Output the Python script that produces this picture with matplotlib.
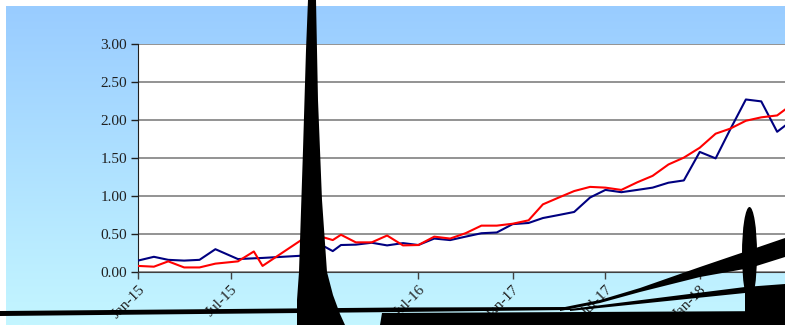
import datetime as dt

import numpy as np
import matplotlib
matplotlib.use("Agg")
import matplotlib.pyplot as plt
import matplotlib.dates as mdates
from matplotlib.patches import Polygon, Ellipse


# ------------------------------------------------------------
# Data
# ------------------------------------------------------------

dates = [
    "2015-01-01", "2015-02-01", "2015-03-01", "2015-04-01", "2015-05-01",
    "2015-06-01", "2015-07-15", "2015-08-15", "2015-09-01", "2015-12-01",
    "2016-01-01", "2016-01-16", "2016-02-01", "2016-03-01", "2016-04-01",
    "2016-05-01", "2016-06-01", "2016-07-01", "2016-08-01", "2016-09-01",
    "2016-10-01", "2016-11-01", "2016-12-01", "2017-01-01", "2017-02-01",
    "2017-03-01", "2017-04-01", "2017-05-01", "2017-06-01", "2017-07-01",
    "2017-08-01", "2017-09-01", "2017-10-01", "2017-11-01", "2017-12-01",
    "2018-01-01", "2018-02-01", "2018-03-01", "2018-04-01", "2018-05-01",
    "2018-06-01", "2018-07-01",
]

blue_values = [
    0.15, 0.20, 0.16, 0.15, 0.16, 0.30, 0.17, 0.18, 0.185, 0.22,
    0.33, 0.275, 0.355, 0.36, 0.385, 0.35, 0.38, 0.355, 0.44, 0.42,
    0.465, 0.51, 0.52, 0.63, 0.645, 0.71, 0.75, 0.79, 0.98, 1.08,
    1.05, 1.08, 1.11, 1.175, 1.205, 1.58, 1.495, 1.87, 2.27, 2.245,
    1.845, 2.00,
]

red_values = [
    0.08, 0.07, 0.14, 0.06, 0.06, 0.11, 0.14, 0.27, 0.08, 0.49,
    0.45, 0.42, 0.49, 0.39, 0.39, 0.48, 0.35, 0.355, 0.465, 0.44,
    0.51, 0.61, 0.61, 0.635, 0.68, 0.89, 0.98, 1.065, 1.12, 1.11,
    1.08, 1.18, 1.265, 1.415, 1.505, 1.635, 1.82, 1.885, 1.99, 2.035,
    2.06, 2.21,
]

y_ticks = [0.0, 0.5, 1.0, 1.5, 2.0, 2.5, 3.0]


def main():
    plt.rcParams["font.family"] = ["Liberation Serif", "DejaVu Serif"]

    W, H = 785, 325
    fig = plt.figure(figsize=(W / 100, H / 100), dpi=100)
    fig.patch.set_facecolor("white")

    # background gradient (white strip on top and left edge)
    bg = fig.add_axes([6 / W, 0, 1, (H - 6) / H])
    top = np.array([153, 204, 255]) / 255
    bottom = np.array([196, 246, 255]) / 255
    t = np.linspace(0, 1, 256)[:, None]
    grad = top * (1 - t) + bottom * t
    bg.imshow(grad[:, None, :], aspect="auto", extent=[0, 1, 0, 1])
    bg.set_axis_off()

    # plot area: left at 138px, runs past the right edge of the image
    x_dates = [dt.datetime.strptime(d, "%Y-%m-%d") for d in dates]
    ax = fig.add_axes([138 / W, (H - 272) / H, (792 - 138) / W, 228 / H])
    ax.set_facecolor("white")

    ax.plot(x_dates, blue_values, color="#000080", lw=1.5, zorder=3)
    ax.plot(x_dates, red_values, color="#ff0000", lw=1.5, zorder=3)

    ax.set_xlim(dt.datetime(2015, 1, 1), dt.datetime(2018, 6, 30))
    ax.set_ylim(0, 3)
    ax.set_yticks(y_ticks)
    ax.yaxis.set_major_formatter(plt.FormatStrFormatter("%.2f"))
    ax.grid(axis="y", color="#808080", lw=1.2, zorder=1)

    ax.xaxis.set_major_locator(mdates.MonthLocator(bymonth=[1, 7]))
    ax.xaxis.set_major_formatter(mdates.DateFormatter("%b-%y"))
    plt.setp(ax.get_xticklabels(), rotation=45, ha="right",
             rotation_mode="anchor")

    for side in ("top", "right"):
        ax.spines[side].set_visible(False)
    ax.spines["left"].set_color("#202020")
    ax.spines["bottom"].set_color("#404040")
    ax.tick_params(axis="y", length=5, width=1, colors="#202020",
                   labelsize=11, pad=3)
    ax.tick_params(axis="x", length=5, width=1, colors="#404040",
                   labelcolor="#202020", labelsize=11, pad=3)

    # ------------------------------------------------------------
    # black rendering artefacts over the picture
    # ------------------------------------------------------------
    art = fig.add_axes([0, 0, 1, 1], zorder=10)
    art.set_xlim(0, W)
    art.set_ylim(H, 0)
    art.set_axis_off()
    art.patch.set_alpha(0)

    shapes = [
        # tall spike
        [(308, 0), (316, 0), (318, 100), (322, 200), (327, 272), (333, 295),
         (340, 314), (345, 325), (297, 325), (297, 300), (299, 272),
         (303, 150), (306, 50)],
        # thin wedge across the bottom
        [(0, 311), (400, 307.5), (570, 307), (570, 310), (400, 312), (0, 316)],
        # bottom block
        [(382, 313), (785, 311), (785, 325), (380, 325)],
        # curved band
        [(560, 308), (600, 300), (640, 288), (700, 267), (750, 250),
         (785, 238), (785, 257), (750, 268), (700, 277), (640, 292),
         (600, 303), (560, 311)],
        # second wedge
        [(570, 309), (745, 287), (745, 293), (570, 311)],
        # right block
        [(745, 287), (785, 284), (785, 325), (745, 325)],
    ]
    for pts in shapes:
        art.add_patch(Polygon(pts, closed=True, color="black", lw=0))
    art.add_patch(Ellipse((749.5, 254), 15, 94, color="black", lw=0))

    fig.savefig("out.png", dpi=100)


if __name__ == "__main__":
    main()
